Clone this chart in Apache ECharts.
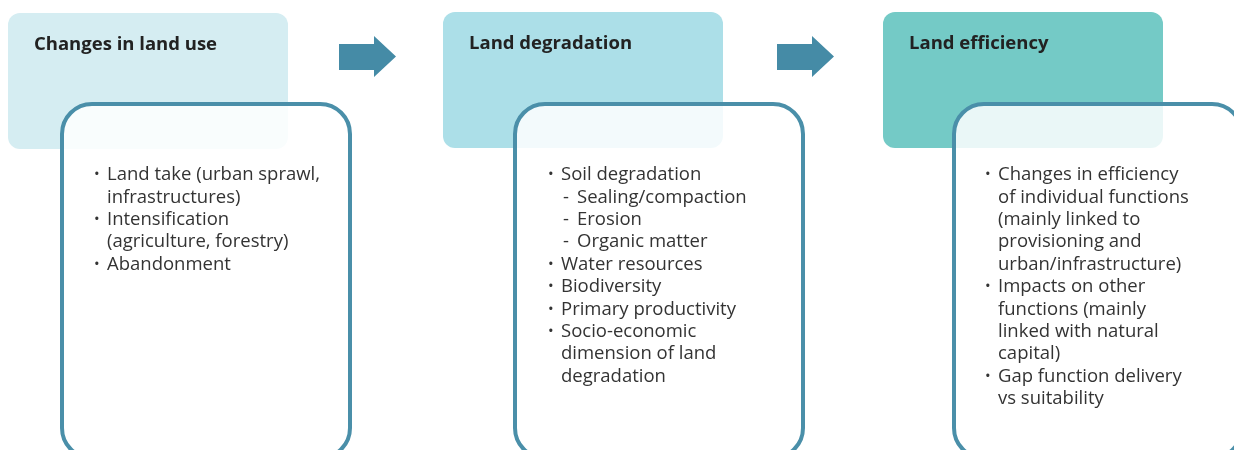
<!DOCTYPE html>
<html>
<head>
<meta charset="utf-8">
<script src="https://cdn.jsdelivr.net/npm/echarts@6/dist/echarts.min.js"></script>
<style>
  html, body { margin: 0; padding: 0; background: #fff; }
  #main { width: 1234px; height: 450px; }
</style>
</head>
<body>
<div id="main"></div>
<script>
var myChart = echarts.init(document.getElementById('main'));

// headers of the three steps
var headers = ['Changes in land use', 'Land degradation', 'Land efficiency'];
var headerColors = ['#d5edf2', '#acdfe8', '#74cac6'];

// bullet items, one array of lines per item; '- ' marks a sub item
var useItems = [
    ['Land take (urban sprawl,', 'infrastructures)'],
    ['Intensification', '(agriculture, forestry)'],
    ['Abandonment']
];
var degradationItems = [
    ['Soil degradation'],
    ['- Sealing/compaction'],
    ['- Erosion'],
    ['- Organic matter'],
    ['Water resources'],
    ['Biodiversity'],
    ['Primary productivity'],
    ['Socio-economic', 'dimension of land', 'degradation']
];
var efficiencyItems = [
    ['Changes in efficiency', 'of individual functions', '(mainly linked to', 'provisioning and', 'urban/infrastructure)'],
    ['Impacts on other', 'functions (mainly', 'linked with natural', 'capital)'],
    ['Gap function delivery', 'vs suitability']
];
var allItems = [useItems, degradationItems, efficiencyItems];

// layout of each panel
var panels = [
    {hx: 8, hy: 13, bx: 62, bullet: 94, text: 107},
    {hx: 443, hy: 12, bx: 515, bullet: 548, text: 561},
    {hx: 883, hy: 12, bx: 954, bullet: 985, text: 998}
];
var arrowsX = [339, 777];

var LINE = 22.4;
var SIZE = 18.5;
var FONT = '"Open Sans", "DejaVu Sans", sans-serif';
var BORDER = '#4a8fa9';

var elements = [];

panels.forEach(function (p, i) {
    elements.push({
        type: 'rect',
        shape: {x: p.hx, y: p.hy, width: 280, height: 136, r: 12},
        style: {fill: headerColors[i]},
        z: 1
    });
    elements.push({
        type: 'text',
        x: p.hx + 26, y: p.hy + 32,
        style: {
            text: headers[i], fill: '#222', fontFamily: FONT,
            fontSize: SIZE, fontWeight: 'bold', verticalAlign: 'middle'
        },
        z: 2
    });
    elements.push({
        type: 'rect',
        shape: {x: p.bx, y: 104, width: 288, height: 354, r: 30},
        style: {fill: 'rgba(255,255,255,0.85)', stroke: BORDER, lineWidth: 4},
        z: 3
    });

    var row = 0;
    allItems[i].forEach(function (item) {
        item.forEach(function (line, j) {
            var y = 175 + row * LINE;
            var sub = line.indexOf('- ') === 0;
            if (j === 0 && !sub) {
                elements.push({
                    type: 'text', x: p.bullet, y: y,
                    style: {text: '•', fill: '#333', fontFamily: FONT, fontSize: 15, verticalAlign: 'middle'},
                    z: 4
                });
            }
            if (sub) {
                elements.push({
                    type: 'text', x: p.text + 2, y: y,
                    style: {text: '-', fill: '#333', fontFamily: FONT, fontSize: SIZE, verticalAlign: 'middle'},
                    z: 4
                });
            }
            elements.push({
                type: 'text', x: sub ? p.text + 16 : p.text, y: y,
                style: {
                    text: sub ? line.slice(2) : line, fill: '#333',
                    fontFamily: FONT, fontSize: SIZE, verticalAlign: 'middle'
                },
                z: 4
            });
            row++;
        });
    });
});

arrowsX.forEach(function (x) {
    elements.push({
        type: 'polygon',
        shape: {points: [[x, 44], [x + 35, 44], [x + 35, 36], [x + 57, 56.5], [x + 35, 77], [x + 35, 70], [x, 70]]},
        style: {fill: '#458ba6'},
        z: 2
    });
});

var option = {
    backgroundColor: '#ffffff',
    animation: false,
    graphic: {elements: elements}
};

myChart.setOption(option);
</script>
</body>
</html>
